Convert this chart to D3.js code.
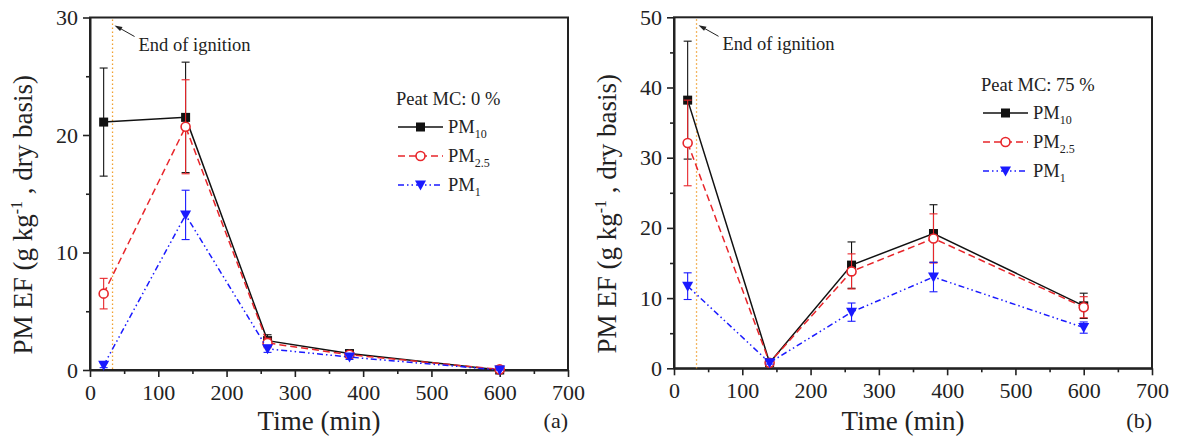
<!DOCTYPE html>
<html>
<head>
<meta charset="utf-8">
<script src="https://cdn.jsdelivr.net/npm/d3@7"></script>
<style>
  body { margin: 0; background: #fff; }
  svg { display: block; font-family: "Liberation Serif", serif; }
</style>
</head>
<body>
<svg id="chart" width="1177" height="441"></svg>
<script>
// sampling times (min)
const times = [20, 140, 260, 380, 600];
const ignitionEnd = 33;

// panel (a): peat MC 0 %
const pm10A = [21.1, 21.5, 2.5, 1.4, 0.0];
const pm10ErrA = [4.6, 4.7, 0.5, 0.2, 0.1];
const pm25A = [6.5, 20.7, 2.3, 1.3, 0.05];
const pm25ErrA = [1.3, 4.0, 0.4, 0.2, 0.1];
const pm1A = [0.4, 13.2, 1.8, 1.1, 0.0];
const pm1ErrA = [0.2, 2.1, 0.3, 0.2, 0.1];

// panel (b): peat MC 75 %
const pm10B = [38.2, 0.8, 14.7, 19.2, 8.9];
const pm10ErrB = [8.4, 0.2, 3.3, 4.1, 1.8];
const pm25B = [32.1, 0.8, 13.8, 18.5, 8.7];
const pm25ErrB = [6.1, 0.2, 2.5, 3.5, 1.5];
const pm1B = [11.7, 0.8, 8.0, 13.0, 5.8];
const pm1ErrB = [1.9, 0.2, 1.3, 2.1, 0.8];

const xTicks = [0, 100, 200, 300, 400, 500, 600, 700];

const svg = d3.select("#chart");

const styles = [
  {name: "10", color: "#111", dash: null, marker: "square"},
  {name: "2.5", color: "#e8262b", dash: "7,4", marker: "circle"},
  {name: "1", color: "#1a1aff", dash: "6,3,1.5,3,1.5,3", marker: "triangle"}
];

function drawMarker(g, type, color, x, y) {
  if (type == "square") {
    g.append("rect").attr("x", x - 4.5).attr("y", y - 4.5).attr("width", 9).attr("height", 9)
      .attr("fill", color);
  } else if (type == "circle") {
    g.append("circle").attr("cx", x).attr("cy", y).attr("r", 4.5)
      .attr("fill", "#fff").attr("stroke", color).attr("stroke-width", 1.6);
  } else {
    g.append("path").attr("d", `M${x-5.5},${y-4.5}L${x+5.5},${y-4.5}L${x},${y+5.5}Z`)
      .attr("fill", color);
  }
}

function drawPanel(p) {
  const x = d3.scaleLinear().domain([0, 700]).range([p.left, p.right]);
  const y = d3.scaleLinear().domain([0, p.yMax]).range([p.bottom, p.top]);
  const g = svg.append("g");

  // minor ticks
  const xMinor = d3.range(50, 700, 100);
  const yMinor = d3.range(5, p.yMax, 10);
  g.append("g").attr("transform", `translate(0,${p.bottom})`)
    .call(d3.axisBottom(x).tickValues(xMinor).tickSize(4).tickFormat(""))
    .call(a => a.select(".domain").remove());
  g.append("g").attr("transform", `translate(${p.left},0)`)
    .call(d3.axisLeft(y).tickValues(yMinor).tickSize(4).tickFormat(""))
    .call(a => a.select(".domain").remove());

  // major axes
  const xAxis = g.append("g").attr("transform", `translate(0,${p.bottom})`)
    .call(d3.axisBottom(x).tickValues(xTicks).tickSize(7).tickSizeOuter(0).tickPadding(7));
  const yAxis = g.append("g").attr("transform", `translate(${p.left},0)`)
    .call(d3.axisLeft(y).ticks(p.yMax / 10).tickSize(7).tickSizeOuter(0).tickPadding(5));
  [xAxis, yAxis].forEach(a => {
    a.selectAll("text").attr("font-size", 22).attr("font-family", "Liberation Serif").attr("fill", "#222");
    a.select(".domain").attr("stroke-width", 2).attr("stroke", "#222");
  });
  g.selectAll(".tick line").attr("stroke-width", 1.6).attr("stroke", "#222");

  // frame
  g.append("rect").attr("x", p.left).attr("y", p.top)
    .attr("width", p.right - p.left).attr("height", p.bottom - p.top)
    .attr("fill", "none").attr("stroke", "#222").attr("stroke-width", 2);

  // end of ignition marker
  g.append("line").attr("x1", x(ignitionEnd)).attr("x2", x(ignitionEnd))
    .attr("y1", p.top + 2).attr("y2", p.bottom)
    .attr("stroke", "#f0a030").attr("stroke-width", 1.3).attr("stroke-dasharray", "1.5,2.5");
  const ax = x(ignitionEnd) + 2, ay = p.top + 8;
  g.append("line").attr("x1", ax + 20).attr("y1", ay + 11).attr("x2", ax + 4).attr("y2", ay + 2)
    .attr("stroke", "#222").attr("stroke-width", 1);
  g.append("path").attr("d", `M${ax},${ay}L${ax+8},${ay+1.5}L${ax+5.5},${ay+5.5}Z`).attr("fill", "#222");
  g.append("text").attr("x", ax + 24).attr("y", ay + 25)
    .attr("font-size", 18.5).attr("fill", "#222").text("End of ignition");

  // series lines, error bars, markers
  p.series.forEach((s, k) => {
    const st = styles[k];
    const pts = times.map((t, i) => ({t: t, v: s.values[i], e: s.errors[i]}));
    g.append("path").datum(pts)
      .attr("d", d3.line().x(d => x(d.t)).y(d => y(d.v)))
      .attr("fill", "none").attr("stroke", st.color).attr("stroke-width", 1.5)
      .attr("stroke-dasharray", st.dash);
    pts.forEach(d => {
      const cx = x(d.t);
      g.append("line").attr("x1", cx).attr("x2", cx)
        .attr("y1", y(d.v + d.e)).attr("y2", y(Math.max(0, d.v - d.e)))
        .attr("stroke", st.color).attr("stroke-width", 1.1);
      [d.v + d.e, Math.max(0, d.v - d.e)].forEach(v => {
        g.append("line").attr("x1", cx - 4).attr("x2", cx + 4)
          .attr("y1", y(v)).attr("y2", y(v))
          .attr("stroke", st.color).attr("stroke-width", 1.1);
      });
    });
    pts.forEach(d => drawMarker(g, st.marker, st.color, x(d.t), y(d.v)));
  });

  // legend
  const lg = g.append("g");
  lg.append("text").attr("x", p.legX - 2).attr("y", p.legY)
    .attr("font-size", 18.5).attr("fill", "#222").text(p.title);
  styles.forEach((st, k) => {
    const ly = p.legY + 22 + k * 29;
    lg.append("line").attr("x1", p.legX).attr("x2", p.legX + 45)
      .attr("y1", ly).attr("y2", ly)
      .attr("stroke", st.color).attr("stroke-width", 1.5).attr("stroke-dasharray", st.dash);
    drawMarker(lg, st.marker, st.color, p.legX + 22.5, ly);
    const t = lg.append("text").attr("x", p.legX + 50).attr("y", ly + 6)
      .attr("font-size", 18.5).attr("fill", "#222");
    t.append("tspan").text("PM");
    t.append("tspan").attr("font-size", 12).attr("dy", 5).text(st.name);
  });

  // axis titles
  g.append("text").attr("x", (p.left + p.right) / 2 - 10).attr("y", 430)
    .attr("text-anchor", "middle").attr("font-size", 27).attr("fill", "#222").text("Time (min)");
  const yl = g.append("text")
    .attr("transform", `translate(${p.left - 58},${(p.top + p.bottom) / 2 + 21}) rotate(-90)`)
    .attr("text-anchor", "middle").attr("font-size", 27).attr("fill", "#222");
  yl.append("tspan").text("PM EF (g kg");
  yl.append("tspan").attr("font-size", 16).attr("dy", -10).text("-1");
  yl.append("tspan").attr("dy", 10).text(" , dry basis)");

  g.append("text").attr("x", p.right).attr("y", 428).attr("text-anchor", "end")
    .attr("font-size", 22).attr("fill", "#222").text(p.label);
}

drawPanel({
  left: 90, right: 568, top: 17.5, bottom: 370, yMax: 30,
  title: "Peat MC: 0 %", legX: 398, legY: 105, label: "(a)",
  series: [
    {values: pm10A, errors: pm10ErrA},
    {values: pm25A, errors: pm25ErrA},
    {values: pm1A, errors: pm1ErrA}
  ]
});

drawPanel({
  left: 674, right: 1152, top: 17.3, bottom: 368.3, yMax: 50,
  title: "Peat MC: 75 %", legX: 983, legY: 91, label: "(b)",
  series: [
    {values: pm10B, errors: pm10ErrB},
    {values: pm25B, errors: pm25ErrB},
    {values: pm1B, errors: pm1ErrB}
  ]
});
</script>
</body>
</html>
